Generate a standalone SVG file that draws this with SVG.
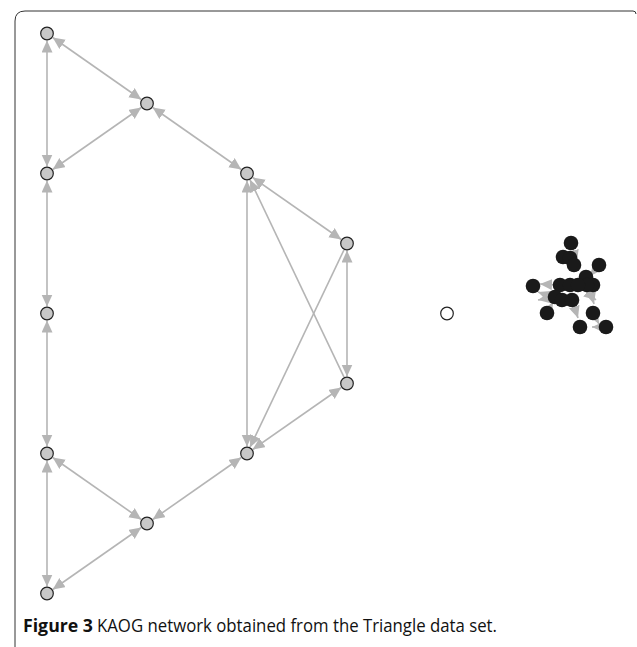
<svg xmlns="http://www.w3.org/2000/svg" width="637" height="647" viewBox="0 0 637 647">
<defs>
<marker id="ah" markerUnits="userSpaceOnUse" markerWidth="13" markerHeight="12" refX="12" refY="5.5" orient="auto-start-reverse">
<path d="M0,0 L12,5.5 L0,11 z" fill="#b5b5b5"/>
</marker>
</defs>
<style>
.e{stroke:#b5b5b5;stroke-width:1.6;fill:none}
.b{marker-start:url(#ah);marker-end:url(#ah)}
.u{marker-end:url(#ah)}
.n{fill:#c8c8c8;stroke:#222;stroke-width:1.2}
.w{fill:#fff;stroke:#222;stroke-width:1.2}
.k{fill:#1a1a1a}
.cap{font-family:"Open Sans","Liberation Sans",sans-serif;font-size:18px;fill:#111}
</style>
<rect width="637" height="647" fill="#fff"/>
<path d="M15,647 V21 Q15,11 25,11 H633 Q636,11 636,14" fill="none" stroke="#333" stroke-width="1"/>
<g id="connectors">
<line class="e b" x1="52.7" y1="37.5" x2="141.3" y2="99.5"/>
<line class="e b" x1="141.3" y1="107.5" x2="52.7" y2="169.5"/>
<line class="e b" x1="152.7" y1="107.5" x2="241.3" y2="169.5"/>
<line class="e b" x1="47" y1="40.5" x2="47" y2="166.5"/>
<line class="e b" x1="47" y1="180.5" x2="47" y2="306.5"/>
<line class="e b" x1="47" y1="320.5" x2="47" y2="446.5"/>
<line class="e b" x1="47" y1="460.5" x2="47" y2="586.5"/>
<line class="e b" x1="52.7" y1="457.5" x2="141.3" y2="519.5"/>
<line class="e b" x1="141.3" y1="527.5" x2="52.7" y2="589.5"/>
<line class="e b" x1="152.7" y1="519.5" x2="241.3" y2="457.5"/>
<line class="e b" x1="252.7" y1="449.5" x2="341.3" y2="387.5"/>
<line class="e b" x1="252.7" y1="177.5" x2="341.3" y2="239.5"/>
<line class="e b" x1="247" y1="180.5" x2="247" y2="446.5"/>
<line class="e b" x1="347" y1="250.5" x2="347" y2="376.5"/>
<line class="e u" x1="344" y1="377.2" x2="250" y2="179.8"/>
<line class="e u" x1="344" y1="249.8" x2="250" y2="447.2"/>
<line class="e u" x1="560" y1="285" x2="540" y2="284"/>
<line class="e u" x1="560" y1="300" x2="538" y2="292"/>
<line class="e u" x1="555" y1="297" x2="538" y2="300"/>
<line class="e u" x1="571" y1="243" x2="577" y2="262"/>
<line class="e u" x1="599" y1="265" x2="590" y2="276"/>
<line class="e u" x1="572" y1="300" x2="578" y2="318"/>
<line class="e u" x1="586" y1="277" x2="594" y2="304"/>
<line class="e u" x1="578" y1="285" x2="596" y2="300"/>
<line class="e u" x1="606" y1="327" x2="592" y2="327"/>
<line class="e u" x1="593" y1="313" x2="599" y2="324"/>
<line class="e u" x1="547" y1="313" x2="553" y2="302"/>
</g>
<g id="A"><circle class="n" cx="47" cy="33.5" r="6.3"/></g>
<g id="B"><circle class="n" cx="147" cy="103.5" r="6.3"/></g>
<g id="C"><circle class="n" cx="47" cy="173.5" r="6.3"/></g>
<g id="D"><circle class="n" cx="247" cy="173.5" r="6.3"/></g>
<g id="E"><circle class="n" cx="347" cy="243.5" r="6.3"/></g>
<g id="F"><circle class="n" cx="47" cy="313.5" r="6.3"/></g>
<g id="G"><circle class="n" cx="347" cy="383.5" r="6.3"/></g>
<g id="H"><circle class="n" cx="47" cy="453.5" r="6.3"/></g>
<g id="I"><circle class="n" cx="247" cy="453.5" r="6.3"/></g>
<g id="J"><circle class="n" cx="147" cy="523.5" r="6.3"/></g>
<g id="K"><circle class="n" cx="47" cy="593.5" r="6.3"/></g>
<g id="W"><circle class="w" cx="447" cy="313.5" r="6.3"/></g>
<g id="cluster">
<circle class="k" cx="571" cy="243" r="7.3"/>
<circle class="k" cx="563" cy="257" r="7.3"/>
<circle class="k" cx="570" cy="258" r="7.3"/>
<circle class="k" cx="574" cy="265" r="7.3"/>
<circle class="k" cx="599" cy="265" r="7.3"/>
<circle class="k" cx="586" cy="277" r="7.3"/>
<circle class="k" cx="593" cy="285" r="7.3"/>
<circle class="k" cx="587" cy="285" r="7.3"/>
<circle class="k" cx="533" cy="286" r="7.3"/>
<circle class="k" cx="560" cy="285" r="7.3"/>
<circle class="k" cx="570" cy="285" r="7.3"/>
<circle class="k" cx="578" cy="285" r="7.3"/>
<circle class="k" cx="555" cy="297" r="7.3"/>
<circle class="k" cx="562" cy="300" r="7.3"/>
<circle class="k" cx="572" cy="300" r="7.3"/>
<circle class="k" cx="547" cy="313" r="7.3"/>
<circle class="k" cx="593" cy="313" r="7.3"/>
<circle class="k" cx="580" cy="327" r="7.3"/>
<circle class="k" cx="606" cy="327" r="7.3"/>
</g>
<text class="cap" x="23" y="632" font-weight="bold" textLength="70" lengthAdjust="spacingAndGlyphs">Figure 3</text>
<text class="cap" x="97" y="632" textLength="400" lengthAdjust="spacingAndGlyphs">KAOG network obtained from the Triangle data set.</text>
</svg>
